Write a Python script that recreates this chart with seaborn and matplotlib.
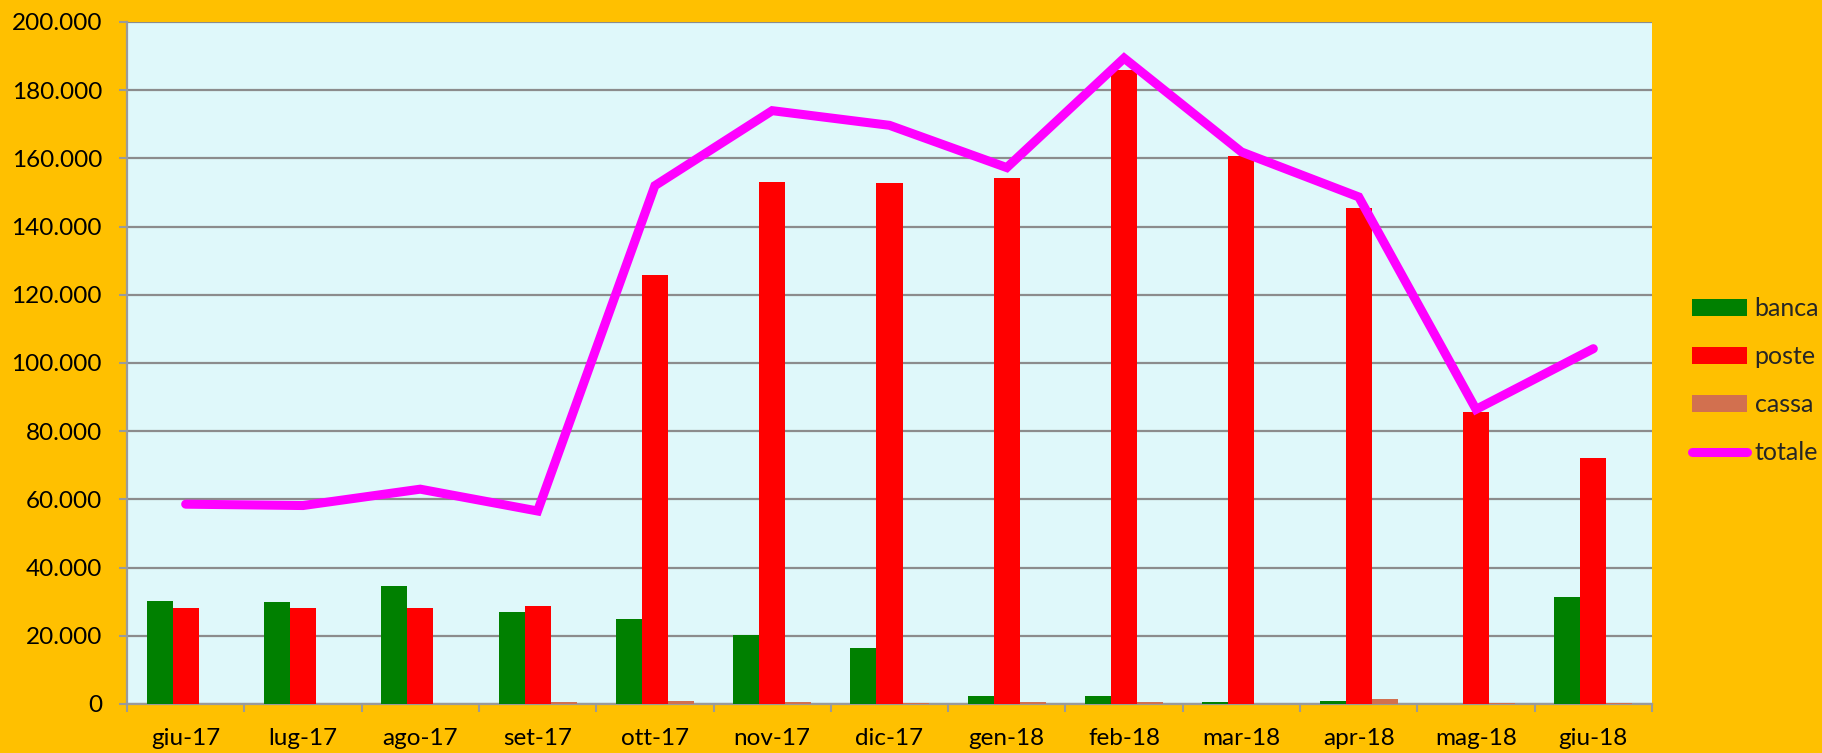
import numpy as np
import pandas as pd
import matplotlib
matplotlib.use("Agg")
import matplotlib.pyplot as plt
import seaborn as sns
from matplotlib.patches import Patch
from matplotlib.lines import Line2D
from matplotlib.ticker import FuncFormatter, FixedLocator

mesi = ["giu-17", "lug-17", "ago-17", "set-17", "ott-17", "nov-17", "dic-17",
        "gen-18", "feb-18", "mar-18", "apr-18", "mag-18", "giu-18"]
banca = [30200, 30000, 34500, 26900, 24800, 20100, 16300, 2250, 2250, 500, 800, 100, 31400]
poste = [28100, 28100, 28100, 28700, 125900, 153200, 152800, 154200, 186000, 160800, 145500, 85600, 72200]
cassa = [0, 0, 0, 500, 800, 700, 200, 500, 500, 100, 1400, 300, 300]
totale = [58600, 58200, 63000, 56600, 152000, 174000, 169700, 157300, 189400, 161900, 148700, 86400, 104200]

serie = ["banca", "poste", "cassa"]
colori = {"banca": "#008000", "poste": "#FF0000", "cassa": "#D2704F"}
col_linea = "#FF00FF"
bg_fig = "#FFC000"
bg_ax = "#DFF8FA"
grigio = "#8C8C8C"

df = pd.DataFrame({"mese": mesi, "banca": banca, "poste": poste, "cassa": cassa, "totale": totale})
long = df.melt(id_vars="mese", value_vars=serie, var_name="serie", value_name="valore")

sns.set_style("white")
plt.rcParams["font.family"] = ["Lato", "DejaVu Sans"]

fig = plt.figure(figsize=(18.22, 7.53), dpi=100, facecolor=bg_fig)
ax = fig.add_axes([127 / 1822, 1 - 704 / 753, (1652 - 127) / 1822, (704 - 22) / 753])
ax.set_facecolor(bg_ax)

sns.barplot(data=long, x="mese", y="valore", hue="serie", hue_order=serie,
            order=mesi, palette=colori, width=0.665, ax=ax, legend=False,
            saturation=1, linewidth=0, zorder=3)
sns.lineplot(data=df, x="mese", y="totale", sort=False, color=col_linea,
             linewidth=6.5, ax=ax, zorder=4, solid_capstyle="round",
             solid_joinstyle="miter")

ax.set_xlim(-0.5, len(mesi) - 0.5)
ax.set_ylim(0, 200000)
ax.set_yticks(np.arange(0, 200001, 20000))
ax.yaxis.set_major_formatter(FuncFormatter(lambda v, p: "0" if v == 0 else f"{int(v):,}".replace(",", ".")))
ax.grid(axis="y", color=grigio, linewidth=1.6, zorder=0)
ax.set_axisbelow(True)
ax.set_xlabel("")
ax.set_ylabel("")

for s in ["top", "right"]:
    ax.spines[s].set_visible(False)
for s in ["left", "bottom"]:
    ax.spines[s].set_color("#9A9A9A")
    ax.spines[s].set_linewidth(1.6)

ax.tick_params(axis="y", length=6, width=1.5, color="#9A9A9A", pad=12, labelsize=17.5, labelcolor="black", left=True)
ax.tick_params(axis="x", which="major", length=0, pad=17, labelsize=17.5, labelcolor="black")
ax.xaxis.set_minor_locator(FixedLocator(np.arange(-0.5, len(mesi), 1.0)))
ax.tick_params(axis="x", which="minor", length=6, width=1.5, color="#9A9A9A", bottom=True)

handles = [Patch(facecolor=colori[s], edgecolor="none", label=s) for s in serie]
handles.append(Line2D([0], [0], color=col_linea, linewidth=6.5, solid_capstyle="round", label="totale"))
leg = fig.legend(handles=handles, loc="center left", bbox_to_anchor=(1682 / 1822, 1 - 381 / 753),
                 frameon=False, fontsize=18, handlelength=2.2, handleheight=0.65,
                 labelspacing=1.0, handletextpad=0.3, borderaxespad=0)

fig.savefig("out.png", dpi=100, facecolor=bg_fig)
